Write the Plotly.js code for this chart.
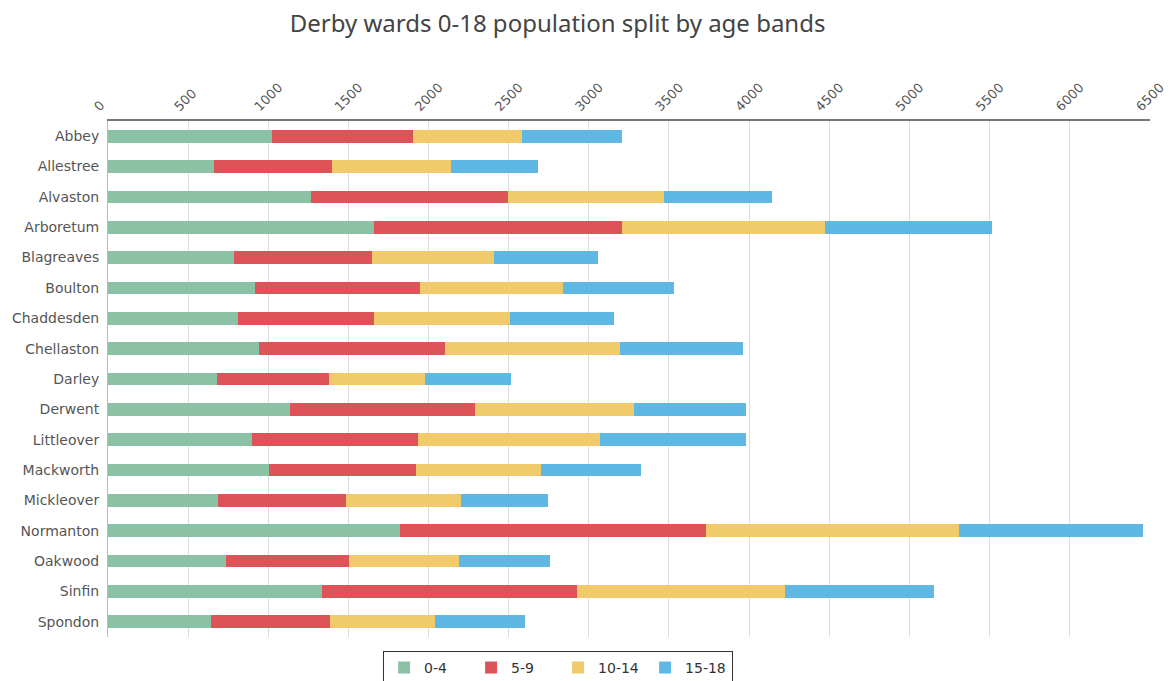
<!DOCTYPE html>
<html>
<head>
<meta charset="utf-8">
<script src="https://cdn.plot.ly/plotly-3.0.1.min.js"></script>
<style>html,body{margin:0;padding:0;background:#fff;}#chart{width:1169px;height:681px;}</style>
</head>
<body>
<div id="chart"></div>
<script>
const wards = ["Abbey","Allestree","Alvaston","Arboretum","Blagreaves","Boulton","Chaddesden","Chellaston","Darley","Derwent","Littleover","Mackworth","Mickleover","Normanton","Oakwood","Sinfin","Spondon"];
const age0to4   = [1022, 659, 1269, 1658, 785, 918, 811, 942, 681, 1136, 899, 1006, 686, 1822, 735, 1333, 645];
const age5to9   = [878, 738, 1229, 1546, 859, 1029, 847, 1162, 699, 1155, 1034, 913, 799, 1906, 766, 1592, 740];
const age10to14 = [683, 743, 968, 1272, 766, 890, 849, 1088, 596, 988, 1137, 785, 716, 1583, 691, 1301, 653];
const age15to18 = [623, 540, 675, 1039, 648, 695, 651, 769, 538, 702, 911, 624, 543, 1148, 567, 927, 562];
const seriesNames = ["0-4","5-9","10-14","15-18"];
const seriesColors = ["#8bc1a5","#dd5357","#f0ca6b","#5fb7e4"];
const seriesValues = [age0to4, age5to9, age10to14, age15to18];
const xTicks = [0,500,1000,1500,2000,2500,3000,3500,4000,4500,5000,5500,6000,6500];

const traces = seriesValues.map((vals, i) => ({
  type: 'bar',
  orientation: 'h',
  name: seriesNames[i],
  y: wards,
  x: vals,
  marker: {color: seriesColors[i], line: {width: 0}},
  hoverinfo: 'x+y+name'
}));

const layout = {
  width: 1169, height: 681,
  barmode: 'stack',
  bargap: 0.58,
  paper_bgcolor: '#fff', plot_bgcolor: '#fff',
  font: {family: 'Noto Sans, DejaVu Sans, sans-serif', color: '#444', size: 13},
  title: {text: 'Derby wards 0-18 population split by age bands', x: 0.477, xanchor: 'center', y: 0.965, yanchor: 'middle', font: {size: 24, color: '#444', family: 'Noto Sans, sans-serif'}},
  margin: {l: 108, r: 19, t: 121, b: 44, autoexpand: false},
  xaxis: {
    side: 'top', range: [0, 6501], tickvals: xTicks, ticktext: xTicks.map(String),
    tickangle: -45, tickfont: {size: 13, color: '#555', family: 'DejaVu Sans, sans-serif'},
    ticklabelshift: -13, ticklabelstandoff: 0,
    showgrid: true, gridcolor: '#dcdcdc', gridwidth: 1,
    showline: true, linecolor: '#777', linewidth: 2, ticks: '', zeroline: false, mirror: false, fixedrange: true
  },
  yaxis: {
    type: 'category', autorange: 'reversed', tickfont: {size: 14, color: '#555', family: 'DejaVu Sans, sans-serif'},
    showline: true, linecolor: '#bbb', linewidth: 1, ticks: '', ticklen: 0, ticklabelstandoff: 5, showgrid: false, fixedrange: true
  },
  legend: {
    orientation: 'h', x: 0.264, xanchor: 'left', y: -0.027, yanchor: 'top',
    bordercolor: '#333', borderwidth: 1, font: {size: 14, color: '#333', family: 'DejaVu Sans, sans-serif'}, traceorder: 'normal',
    entrywidth: 42
  },
  showlegend: true
};

Plotly.newPlot('chart', traces, layout, {displayModeBar: false});
</script>
</body>
</html>
